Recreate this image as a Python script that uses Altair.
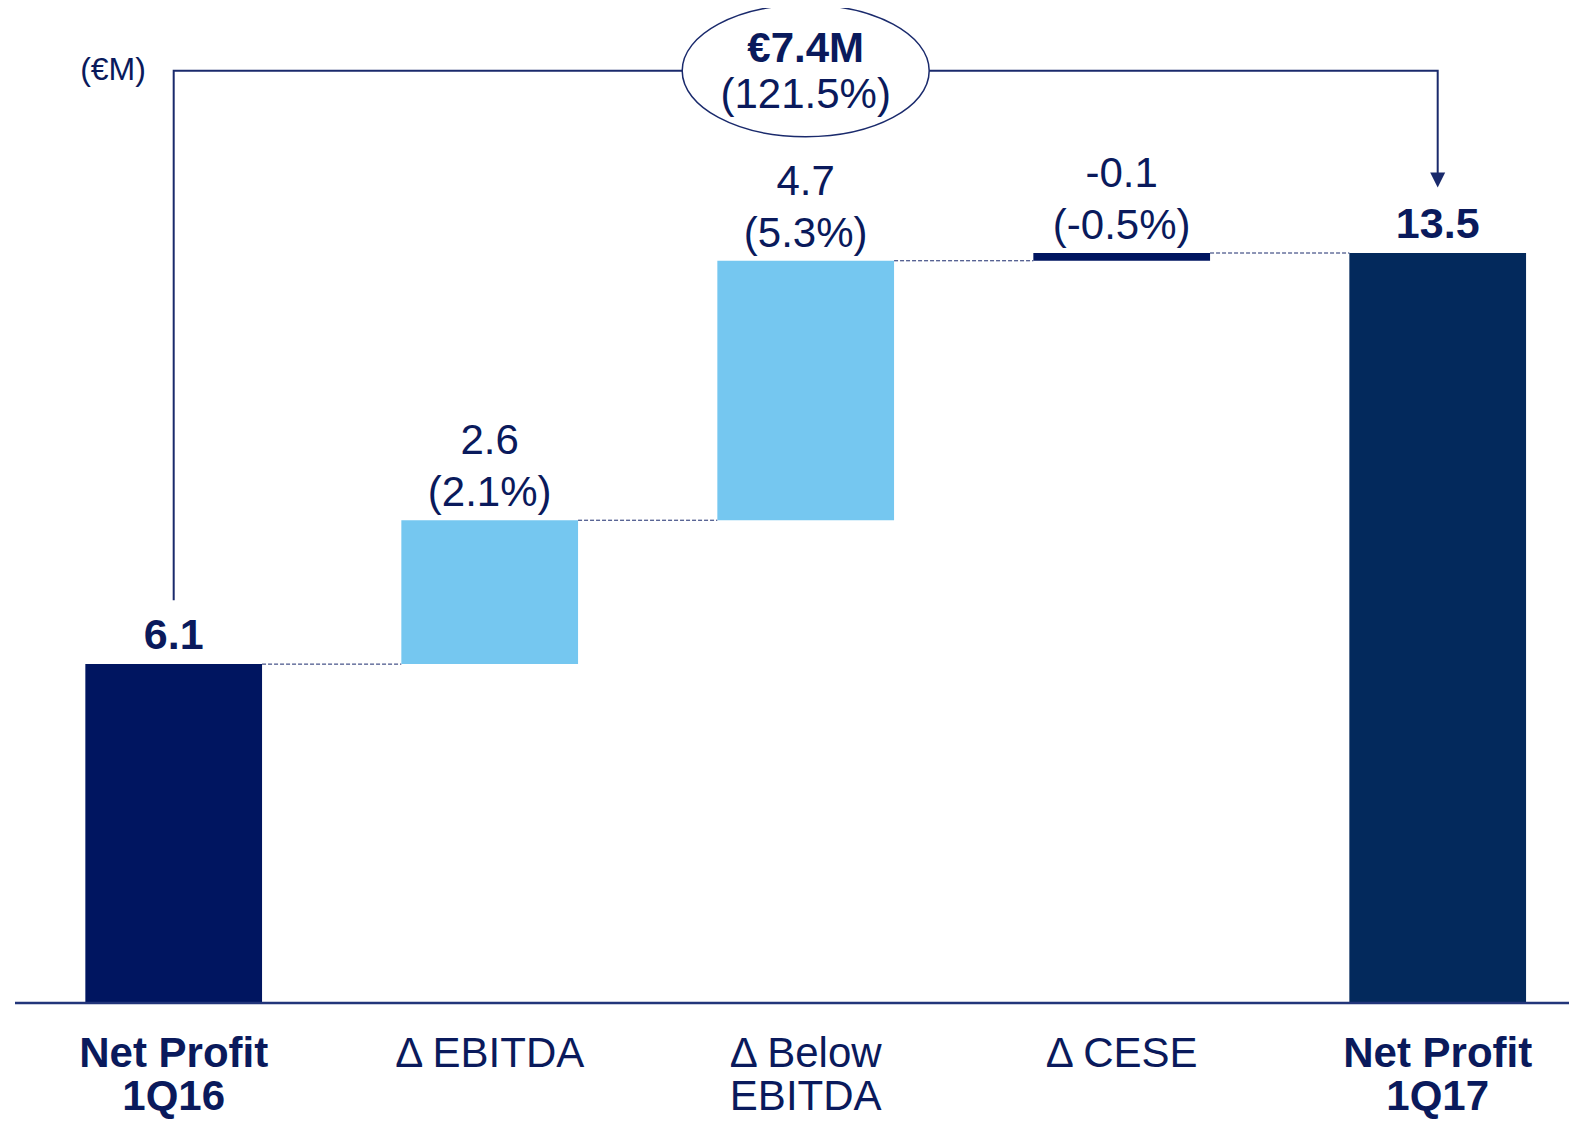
import altair as alt
import pandas as pd

# ---- data ----
line1 = ["Net Profit", "Δ EBITDA", "Δ Below", "Δ CESE", "Net Profit"]
line2 = ["1Q16", "", "EBITDA", "", "1Q17"]
kind = ["total", "delta", "delta", "delta", "total"]
bar_start = [0.0, 6.1, 8.69, 13.36, 0.0]
bar_end = [6.1, 8.69, 13.36, 13.5, 13.5]
value_labels = ["6.1", "2.6", "4.7", "-0.1", "13.5"]
pct_labels = ["", "(2.1%)", "(5.3%)", "(-0.5%)", ""]
bar_colors = ["#001560", "#75C7F0", "#75C7F0", "#001560", "#03295C"]
total_change = "€7.4M"
total_change_pct = "(121.5%)"
unit_label = "(€M)"

# ---- style ----
NAVY = "#0A1A5C"
LINE = "#1A2A6C"
FONT = "Liberation Sans, Arial, sans-serif"
HALF = 0.2796           # half bar width in category units
FS = 42

n = len(line1)
df = pd.DataFrame({
    "idx": list(range(n)),
    "line1": line1, "line2": line2, "kind": kind,
    "start": bar_start, "end": bar_end,
    "vlab": value_labels, "plab": pct_labels, "color": bar_colors,
})
df["x0"] = df["idx"] - HALF
df["x1"] = df["idx"] + HALF

conn = pd.DataFrame({
    "xa": [i + HALF for i in range(n - 1)],
    "xb": [i + 1 - HALF for i in range(n - 1)],
    "y": bar_end[:-1],
})

# bracket annotation (levels in value units)
br_level = 16.78
br_start = bar_end[0] + 1.15
arrow_tip = 14.68
bracket = pd.DataFrame({
    "x": [0, 0, n - 1, n - 1],
    "y": [br_start, br_level, br_level, arrow_tip + 0.2],
    "o": [0, 1, 2, 3],
})
ell = pd.DataFrame({"x": [(n - 1) / 2], "y": [br_level], "t1": [total_change], "t2": [total_change_pct]})
arrow = pd.DataFrame({"x": [n - 1], "y": [arrow_tip]})

X = alt.Scale(domain=[-0.5022, 4.4155], nice=False, zero=False)
Y = alt.Scale(domain=[0, 17.91], nice=False, zero=False)

base = alt.Chart(df)

bars = base.mark_bar().encode(
    x=alt.X("x0:Q", scale=X, axis=None), x2="x1:Q",
    y=alt.Y("start:Q", scale=Y, axis=None), y2="end:Q",
    color=alt.Color("color:N", scale=None),
)

connectors = alt.Chart(conn).mark_rule(color=LINE, strokeWidth=1, strokeDash=[4, 2]).encode(
    x=alt.X("xa:Q", scale=X, axis=None), x2="xb:Q",
    y=alt.Y("y:Q", scale=Y, axis=None),
)

axis_line = alt.Chart(pd.DataFrame({"y": [0]})).mark_rule(color="#22357A", strokeWidth=2.5).encode(
    y=alt.Y("y:Q", scale=Y, axis=None)
)

tot_lab = base.transform_filter("datum.kind == 'total'").mark_text(
    font=FONT, fontSize=43, fontWeight="bold", color=NAVY, baseline="alphabetic", dy=-15
).encode(x=alt.X("idx:Q", scale=X, axis=None), y=alt.Y("end:Q", scale=Y, axis=None), text="vlab:N")

d_val = base.transform_filter("datum.kind == 'delta'").mark_text(
    font=FONT, fontSize=FS, color=NAVY, baseline="alphabetic", dy=-66
).encode(x=alt.X("idx:Q", scale=X, axis=None), y=alt.Y("end:Q", scale=Y, axis=None), text="vlab:N")

d_pct = base.transform_filter("datum.kind == 'delta'").mark_text(
    font=FONT, fontSize=FS, color=NAVY, baseline="alphabetic", dy=-14
).encode(x=alt.X("idx:Q", scale=X, axis=None), y=alt.Y("end:Q", scale=Y, axis=None), text="plab:N")

L1_Y, L2_Y = 1059, 1102
xl_bold1 = base.transform_filter("datum.kind == 'total'").mark_text(
    font=FONT, fontSize=FS, fontWeight="bold", color=NAVY, baseline="alphabetic"
).encode(x=alt.X("idx:Q", scale=X, axis=None), y=alt.value(L1_Y), text="line1:N")
xl_bold2 = base.transform_filter("datum.kind == 'total'").mark_text(
    font=FONT, fontSize=FS, fontWeight="bold", color=NAVY, baseline="alphabetic"
).encode(x=alt.X("idx:Q", scale=X, axis=None), y=alt.value(L2_Y), text="line2:N")
xl_reg1 = base.transform_filter("datum.kind == 'delta'").mark_text(
    font=FONT, fontSize=FS, color=NAVY, baseline="alphabetic"
).encode(x=alt.X("idx:Q", scale=X, axis=None), y=alt.value(L1_Y), text="line1:N")
xl_reg2 = base.transform_filter("datum.kind == 'delta'").mark_text(
    font=FONT, fontSize=FS, color=NAVY, baseline="alphabetic"
).encode(x=alt.X("idx:Q", scale=X, axis=None), y=alt.value(L2_Y), text="line2:N")

br_line = alt.Chart(bracket).mark_line(color=LINE, strokeWidth=2, strokeJoin="miter").encode(
    x=alt.X("x:Q", scale=X, axis=None), y=alt.Y("y:Q", scale=Y, axis=None), order="o:Q"
)

ELLIPSE = "M-1,0 A1,0.534 0 1,0 1,0 A1,0.534 0 1,0 -1,0 Z"
ellipse = alt.Chart(ell).mark_point(
    shape=ELLIPSE, size=247 * 247, filled=True, fill="white", fillOpacity=1,
    stroke=LINE, strokeWidth=1.5, strokeOpacity=1, opacity=1
).encode(x=alt.X("x:Q", scale=X, axis=None), y=alt.Y("y:Q", scale=Y, axis=None))

ell_t1 = alt.Chart(ell).mark_text(
    font=FONT, fontSize=FS, fontWeight="bold", color=NAVY, baseline="alphabetic", dy=-9
).encode(x=alt.X("x:Q", scale=X, axis=None), y=alt.Y("y:Q", scale=Y, axis=None), text="t1:N")
ell_t2 = alt.Chart(ell).mark_text(
    font=FONT, fontSize=FS, color=NAVY, baseline="alphabetic", dy=37
).encode(x=alt.X("x:Q", scale=X, axis=None), y=alt.Y("y:Q", scale=Y, axis=None), text="t2:N")

arrowhead = alt.Chart(arrow).mark_point(
    shape="M-1,-2 L1,-2 L0,0 Z", size=225, filled=True, color=LINE, opacity=1
).encode(x=alt.X("x:Q", scale=X, axis=None), y=alt.Y("y:Q", scale=Y, axis=None))

unit = alt.Chart(pd.DataFrame({"t": [unit_label]})).mark_text(
    font=FONT, fontSize=32, color=NAVY, baseline="middle"
).encode(x=alt.value(98), y=alt.value(62), text="t:N")

chart = alt.layer(
    connectors, bars, axis_line, tot_lab, d_val, d_pct,
    xl_bold1, xl_bold2, xl_reg1, xl_reg2,
    br_line, ellipse, ell_t1, ell_t2, arrowhead, unit,
).properties(
    width=1554, height=995,
    autosize=alt.AutoSizeParams(type="none"),
    padding={"left": 7, "top": 0, "right": 0, "bottom": 116},
).configure_view(stroke=None)

chart.save("out.html", embed_options={"renderer": "svg", "actions": False})
